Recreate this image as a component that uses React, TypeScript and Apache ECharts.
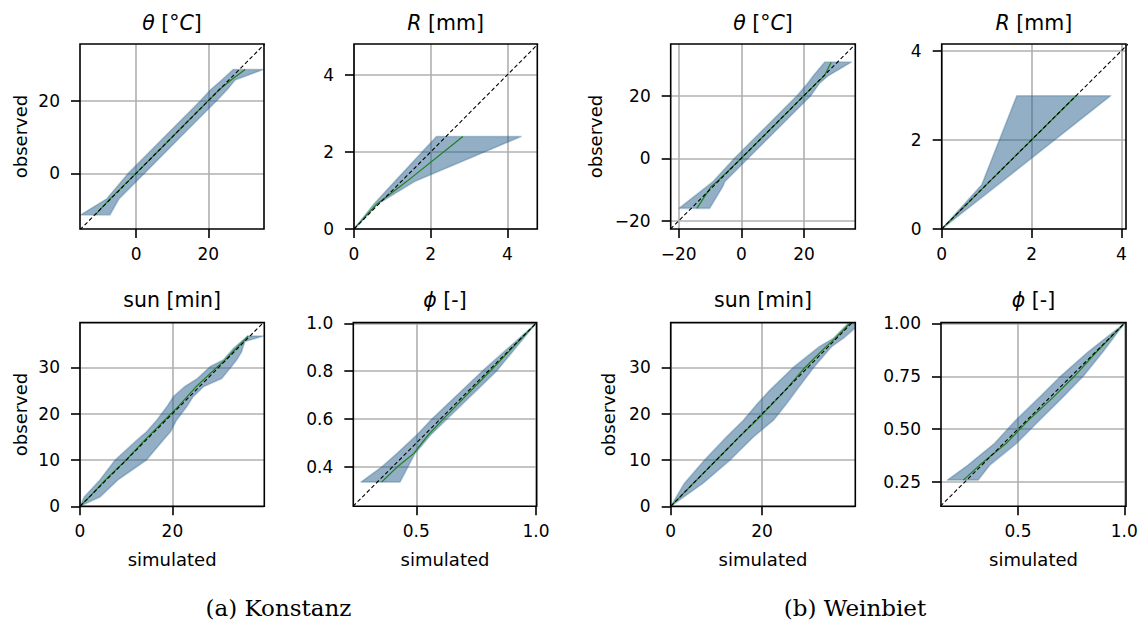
import React, { useEffect, useRef } from 'react';
import * as echarts from 'echarts';

// ---------- Konstanz: temperature θ [°C] ----------
const kTempObs = [-11.4, -7.0, 0, 10, 20, 23, 25.7, 28.6];
const kTempLo = [-15.3, -8.1, -2.2, 7.8, 17.8, 20.6, 23.7, 26.9];
const kTempHi = [-7.2, -4.7, 2.3, 12.3, 22.3, 25.2, 27.4, 35.2];
const kTempMed = [-11.3, -7.2, 0, 10, 20, 23, 26.3, 30.2];
const kTempXRange = [-15.5, 35.4];
const kTempYRange = [-15.3, 35.6];
const kTempXTicks = [0, 20];
const kTempYTicks = [0, 20];

// ---------- Konstanz: precipitation R [mm] ----------
const kRainObs = [0, 0.65, 1.23, 2.4];
const kRainLo = [0, 0.52, 1.06, 2.15];
const kRainHi = [0, 0.62, 1.58, 4.36];
const kRainMed = [0, 0.6, 1.37, 2.84];
const kRainXRange = [0, 4.78];
const kRainYRange = [0, 4.8];
const kRainXTicks = [0, 2, 4];
const kRainYTicks = [0, 2, 4];

// ---------- Konstanz: sunshine [min] ----------
const kSunObs = [0, 2, 5.7, 10, 14.3, 16.1, 18.6, 21.5, 23.7, 25.9, 27.6, 30.2, 31.6, 33.4, 34.1, 35.6, 36.8];
const kSunLo = [0, 0.9, 4.3, 7.6, 12.3, 14.4, 16.6, 18.8, 20.2, 22.7, 25.4, 28.2, 31.0, 32.6, 33.2, 34.9, 36.3];
const kSunHi = [0, 4.3, 8.2, 14.4, 18.0, 19.6, 20.9, 23.1, 24.5, 26.8, 30.7, 32.8, 33.9, 35.0, 35.2, 35.7, 39.7];
const kSunMed = [0, 2, 5.5, 10, 14, 15.8, 18.3, 21.2, 23.2, 25.2, 27.0, 29.8, 31.4, 33.1, 33.8, 35.3, 36.4];
const kSunXRange = [0, 39.9];
const kSunYRange = [0, 39.7];
const kSunXTicks = [0, 20];
const kSunYTicks = [0, 10, 20, 30];

// ---------- Konstanz: humidity ϕ [-] ----------
const kHumObs = [0.337, 0.4, 0.457, 0.534, 0.6, 0.8, 1.0];
const kHumLo = [0.269, 0.355, 0.42, 0.502, 0.565, 0.775, 1.0];
const kHumHi = [0.432, 0.465, 0.495, 0.56, 0.628, 0.835, 1.0];
const kHumMed = [0.355, 0.42, 0.49, 0.55, 0.612, 0.808, 1.0];
const kHumXRange = [0.237, 1.003];
const kHumYRange = [0.236, 1.003];
const kHumXTicks = [0.5, 1.0];
const kHumYTicks = [0.4, 0.6, 0.8, 1.0];

// ---------- Weinbiet: temperature θ [°C] ----------
const wTempObs = [-16, -9, -7.5, 0, 10, 20, 24, 26.3, 30.7];
const wTempLo = [-19.9, -11.0, -9.1, -2.2, 7.8, 17.8, 21.2, 22.9, 26.6];
const wTempHi = [-10.1, -5.9, -5.3, 2.2, 12.2, 22.2, 25.0, 27.7, 35.1];
const wTempMed = [-14.2, -9.6, -7.8, 0, 10, 20, 24, 26.5, 28.7];
const wTempXRange = [-22.55, 36.4];
const wTempYRange = [-22.6, 36.5];
const wTempXTicks = [-20, 0, 20];
const wTempYTicks = [-20, 0, 20];

// ---------- Weinbiet: precipitation R [mm] ----------
const wRainObs = [0, 0.99, 2.99];
const wRainLo = [0, 0.89, 1.67];
const wRainHi = [0, 1.25, 3.76];
const wRainMed = [0, 0.99, 2.99];
const wRainXRange = [0, 4.1];
const wRainYRange = [0, 4.15];
const wRainXTicks = [0, 2, 4];
const wRainYTicks = [0, 2, 4];

// ---------- Weinbiet: sunshine [min] ----------
const wSunObs = [0, 5, 10, 15, 18.6, 22.2, 25, 30, 34.5, 36.3, 39.5];
const wSunLo = [0, 3.0, 7.4, 12.2, 15.9, 19.0, 21.6, 26.8, 32.5, 35.6, 38.8];
const wSunHi = [0, 7.1, 13.0, 18.1, 22.5, 25.4, 27.5, 31.3, 35.2, 37.8, 41.5];
const wSunMed = [0, 5, 10, 15, 18.8, 22.3, 25, 29.4, 34.0, 36.0, 39.2];
const wSunXRange = [0, 40.4];
const wSunYRange = [0, 39.7];
const wSunXTicks = [0, 20];
const wSunYTicks = [0, 10, 20, 30];

// ---------- Weinbiet: humidity ϕ [-] ----------
const wHumObs = [0.259, 0.33, 0.433, 0.543, 0.65, 0.75, 0.866, 1.0];
const wHumLo = [0.168, 0.265, 0.39, 0.49, 0.6, 0.7, 0.83, 1.0];
const wHumHi = [0.313, 0.368, 0.494, 0.603, 0.71, 0.807, 0.9, 1.0];
const wHumMed = [0.243, 0.32, 0.445, 0.55, 0.665, 0.765, 0.87, 1.0];
const wHumXRange = [0.138, 1.008];
const wHumYRange = [0.135, 1.004];
const wHumXTicks = [0.5, 1.0];
const wHumYTicks = [0.25, 0.5, 0.75, 1.0];

const titles = [
  '{i|θ} [°{i|C}]', '{i|R} [mm]', '{i|θ} [°{i|C}]', '{i|R} [mm]',
  'sun [min]', '{i|ϕ} [-]', 'sun [min]', '{i|ϕ} [-]',
];
const captions = ['(a) Konstanz', '(b) Weinbiet'];

// layout: [left, top, width, height]
const GRIDS = [
  [80, 44, 184, 185],
  [354, 44, 183.3, 185],
  [670.7, 44, 184.6, 185],
  [941.7, 44, 184.3, 185],
  [80, 322.6, 184.3, 183.7],
  [353.3, 322.6, 183.4, 183.7],
  [670.7, 322.6, 184.6, 183.7],
  [941, 322.6, 185, 183.7],
];
const Y_NAME_GAP = [51, null, 66, null, 51, null, 53, null];
const CAPTION_POS = [[278.5, 608], [855, 608]];

const PANELS = [
  { obs: kTempObs, lo: kTempLo, hi: kTempHi, med: kTempMed, xr: kTempXRange, yr: kTempYRange, xt: kTempXTicks, yt: kTempYTicks, xd: 0, yd: 0 },
  { obs: kRainObs, lo: kRainLo, hi: kRainHi, med: kRainMed, xr: kRainXRange, yr: kRainYRange, xt: kRainXTicks, yt: kRainYTicks, xd: 0, yd: 0 },
  { obs: wTempObs, lo: wTempLo, hi: wTempHi, med: wTempMed, xr: wTempXRange, yr: wTempYRange, xt: wTempXTicks, yt: wTempYTicks, xd: 0, yd: 0 },
  { obs: wRainObs, lo: wRainLo, hi: wRainHi, med: wRainMed, xr: wRainXRange, yr: wRainYRange, xt: wRainXTicks, yt: wRainYTicks, xd: 0, yd: 0 },
  { obs: kSunObs, lo: kSunLo, hi: kSunHi, med: kSunMed, xr: kSunXRange, yr: kSunYRange, xt: kSunXTicks, yt: kSunYTicks, xd: 0, yd: 0 },
  { obs: kHumObs, lo: kHumLo, hi: kHumHi, med: kHumMed, xr: kHumXRange, yr: kHumYRange, xt: kHumXTicks, yt: kHumYTicks, xd: 1, yd: 1 },
  { obs: wSunObs, lo: wSunLo, hi: wSunHi, med: wSunMed, xr: wSunXRange, yr: wSunYRange, xt: wSunXTicks, yt: wSunYTicks, xd: 0, yd: 0 },
  { obs: wHumObs, lo: wHumLo, hi: wHumHi, med: wHumMed, xr: wHumXRange, yr: wHumYRange, xt: wHumXTicks, yt: wHumYTicks, xd: 1, yd: 2 },
];

const FONT = 'DejaVu Sans';
const fmt = (d: number) => (v: number) => Number(v).toFixed(d).replace('-', '\u2212');

function buildOption() {
  const grid: any[] = [];
  const xAxis: any[] = [];
  const yAxis: any[] = [];
  const series: any[] = [];
  const graphic: any[] = [];

  PANELS.forEach((p, i) => {
    const [l, t, w, h] = GRIDS[i];
    grid.push({ left: l, top: t, width: w, height: h, show: true, borderColor: '#000', borderWidth: 1.6, backgroundColor: 'transparent', z: 5 });
    const common = {
      type: 'value',
      gridIndex: i,
      axisLine: { show: false, onZero: false },
      axisTick: { show: true, length: 9, inside: false, lineStyle: { color: '#000', width: 1.6 } },
      splitLine: { show: true, lineStyle: { color: '#b0b0b0', width: 1.6 } },
    };
    xAxis.push({
      ...common,
      min: p.xr[0], max: p.xr[1],
      axisTick: { ...common.axisTick, customValues: p.xt },
      axisLabel: { customValues: p.xt, formatter: fmt(p.xd), fontSize: 17, fontFamily: FONT, color: '#000', margin: 16 },
      name: i >= 4 ? 'simulated' : '',
      nameLocation: 'middle',
      nameGap: 44,
      nameTextStyle: { fontSize: 18, fontFamily: FONT, color: '#000' },
    });
    yAxis.push({
      ...common,
      min: p.yr[0], max: p.yr[1],
      axisTick: { ...common.axisTick, customValues: p.yt },
      axisLabel: { customValues: p.yt, formatter: fmt(p.yd), fontSize: 17, fontFamily: FONT, color: '#000', margin: 20 },
      name: Y_NAME_GAP[i] != null ? 'observed' : '',
      nameLocation: 'middle',
      nameRotate: 90,
      nameGap: Y_NAME_GAP[i] ?? 50,
      nameTextStyle: { fontSize: 18, fontFamily: FONT, color: '#000' },
    });

    series.push({
      type: 'custom',
      xAxisIndex: i,
      yAxisIndex: i,
      clip: true,
      z: 2,
      silent: true,
      data: [[p.med[0], p.obs[0]]],
      renderItem: (_params: any, api: any) => {
        const pts: number[][] = [];
        for (let k = 0; k < p.obs.length; k++) pts.push(api.coord([p.lo[k], p.obs[k]]));
        for (let k = p.obs.length - 1; k >= 0; k--) pts.push(api.coord([p.hi[k], p.obs[k]]));
        return {
          type: 'polygon',
          shape: { points: pts },
          style: { fill: 'rgba(40,95,140,0.5)', stroke: 'rgba(40,95,140,0.3)', lineWidth: 1.6, lineJoin: 'round' },
        };
      },
    });
    series.push({
      type: 'line',
      xAxisIndex: i,
      yAxisIndex: i,
      z: 3,
      showSymbol: false,
      silent: true,
      data: p.obs.map((y, k) => [p.med[k], y]),
      lineStyle: { color: '#1f7f1f', width: 1.2 },
    });
    const lo = Math.min(p.xr[0], p.yr[0]);
    const hi = Math.max(p.xr[1], p.yr[1]);
    series.push({
      type: 'line',
      xAxisIndex: i,
      yAxisIndex: i,
      z: 4,
      showSymbol: false,
      silent: true,
      data: [[lo, lo], [hi, hi]],
      lineStyle: { color: '#000', width: 1.1, type: [4, 2.5] },
    });

    graphic.push({
      type: 'text',
      x: l + w / 2,
      y: i < 4 ? 22.5 : 299.5,
      style: {
        text: titles[i],
        fontSize: 20.5,
        fontFamily: FONT,
        fill: '#000',
        align: 'center',
        verticalAlign: 'middle',
        rich: { i: { fontStyle: 'italic', fontSize: 20.5, fontFamily: FONT, fill: '#000' } },
      },
    });
  });

  captions.forEach((c, k) => {
    graphic.push({
      type: 'text',
      x: CAPTION_POS[k][0],
      y: CAPTION_POS[k][1],
      style: { text: c, fontSize: 23, fontFamily: 'DejaVu Serif', fill: '#000', align: 'center', verticalAlign: 'middle' },
    });
  });

  return { animation: false, backgroundColor: '#fff', grid, xAxis, yAxis, series, graphic };
}

export default function App() {
  const ref = useRef<HTMLDivElement>(null);
  useEffect(() => {
    if (!ref.current) return;
    const chart = echarts.init(ref.current, undefined, { renderer: 'svg' });
    chart.setOption(buildOption() as any);
    return () => chart.dispose();
  }, []);
  return <div ref={ref} style={{ position: 'absolute', left: 0, top: 0, width: 1147, height: 624 }} />;
}
